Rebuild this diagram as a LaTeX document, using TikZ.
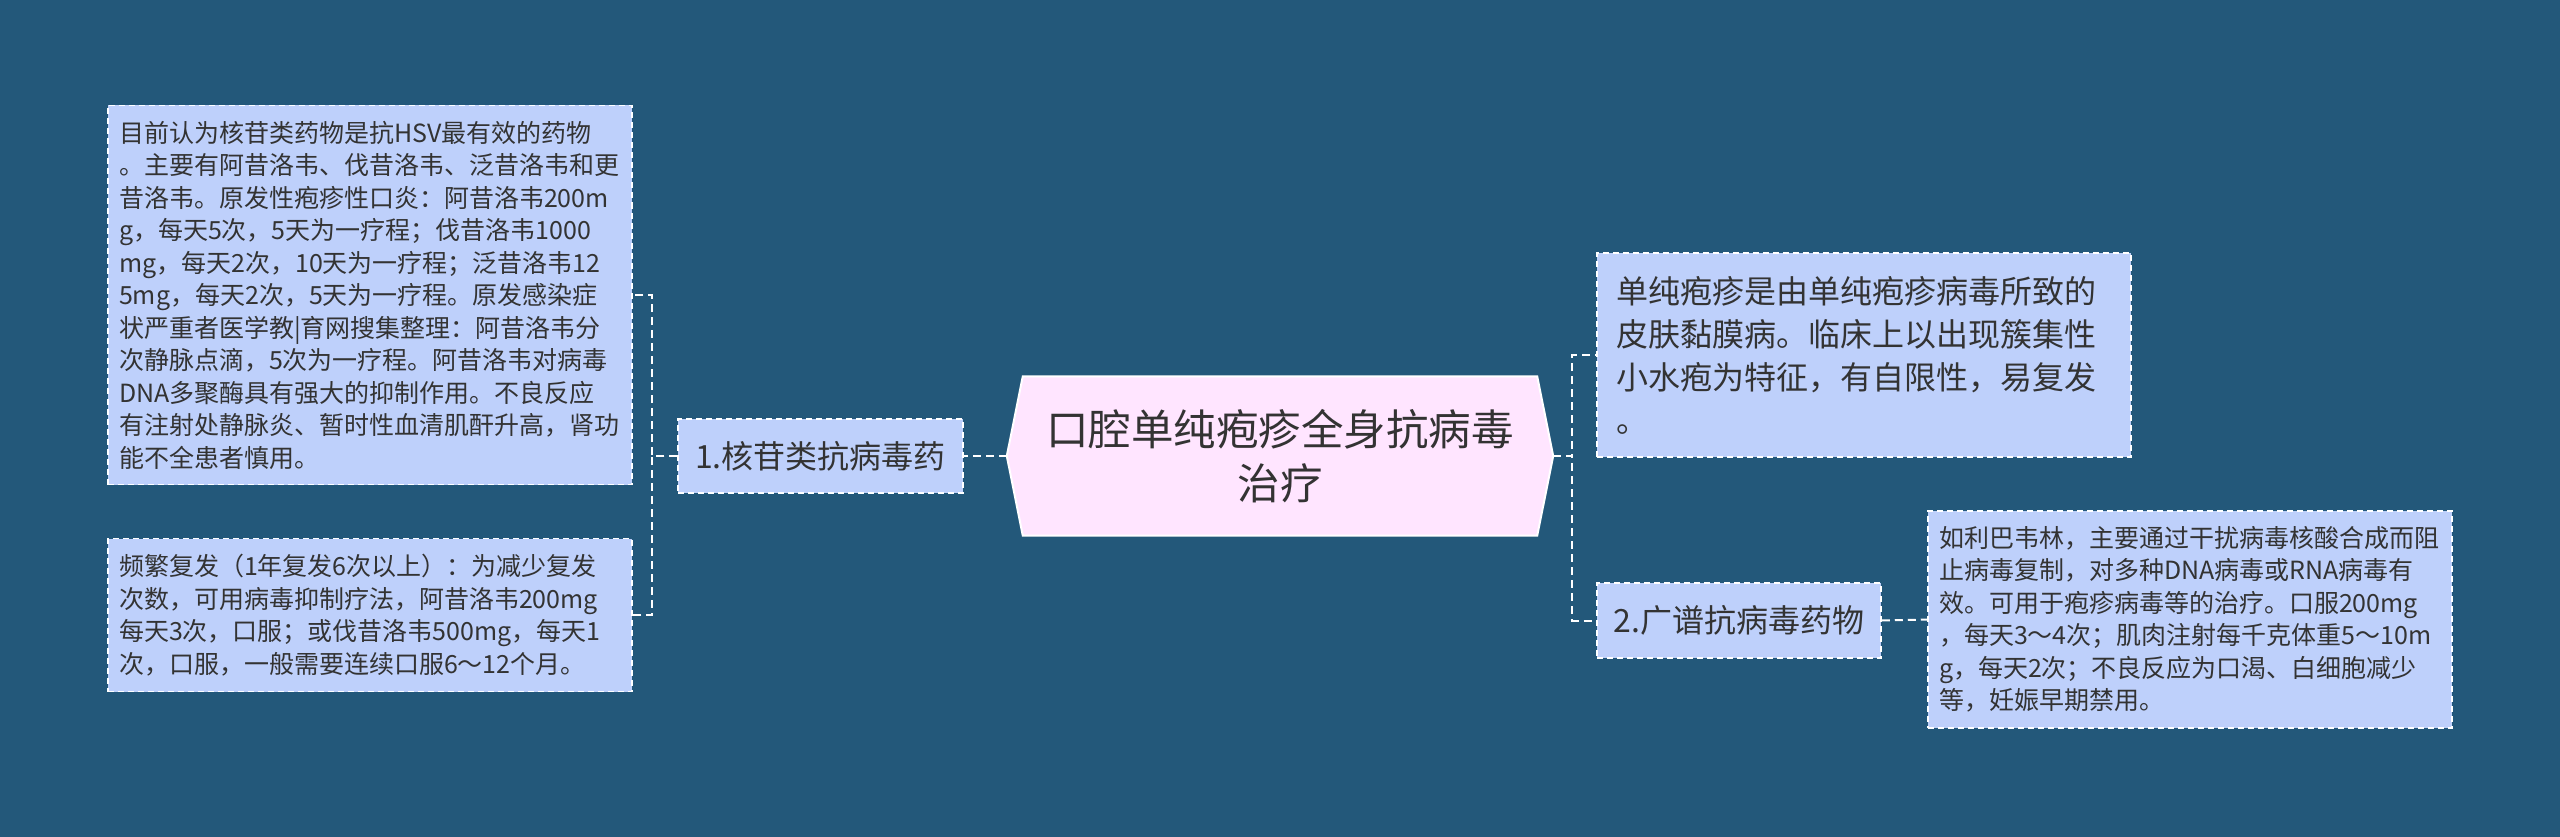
\documentclass[tikz,border=0pt]{standalone}
\usepackage{fontspec}
\setmainfont{Noto Sans CJK SC}
\usepackage{tikz}
\usetikzlibrary{positioning, backgrounds}
\definecolor{bgblue}{RGB}{35,88,122}
\definecolor{boxblue}{RGB}{190,208,251}
\definecolor{rootpink}{RGB}{255,229,255}
\definecolor{inkgray}{RGB}{51,51,51}
\tikzstyle{leafbox} = [rectangle,
text width=502pt,
inner xsep=11pt,
inner ysep=4pt,
align=left,
text=inkgray,
font=\fontsize{25pt}{32.5pt}\selectfont,
draw=white,
line width=1.5pt,
dash pattern=on 6pt off 4pt,
fill=boxblue]
\tikzstyle{branch} = [rectangle,
minimum width=285pt,
minimum height=74pt,
text=inkgray,
font=\fontsize{32pt}{40pt}\selectfont,
draw=white,
line width=1.5pt,
dash pattern=on 6pt off 4pt,
fill=boxblue]
\tikzstyle{rootbox} = [rectangle,
minimum width=546pt,
minimum height=159pt,
align=center,
text=inkgray,
font=\fontsize{42.5pt}{54pt}\selectfont]
\tikzstyle{link} = [draw=white, line width=2pt, dash pattern=on 8pt off 5pt]

\begin{document}
\begin{tikzpicture}[node distance=450pt]
        \useasboundingbox (0,0) rectangle (2560pt,-837pt);
        \node (root) [rootbox] at (1280pt,-456pt) {口腔单纯疱疹全身抗病毒\\治疗};
        \node (n1) [branch, left of=root, xshift=-9.5pt] {1.核苷类抗病毒药};
        \node (n2) [branch, right of=root, xshift=9pt, yshift=-164.5pt, minimum width=284pt, minimum height=75pt] {2.广谱抗病毒药物};
        \node (l1) [leafbox, left of=n1, xshift=-0.5pt, yshift=161pt, minimum height=379pt] {目前认为核苷类药物是抗HSV最有效的药物\\。主要有阿昔洛韦、伐昔洛韦、泛昔洛韦和更\\昔洛韦。原发性疱疹性口炎：阿昔洛韦200m\\g，每天5次，5天为一疗程；伐昔洛韦1000\\mg，每天2次，10天为一疗程；泛昔洛韦12\\5mg，每天2次，5天为一疗程。原发感染症\\状严重者医学教|育网搜集整理：阿昔洛韦分\\次静脉点滴，5次为一疗程。阿昔洛韦对病毒\\DNA多聚酶具有强大的抑制作用。不良反应\\有注射处静脉炎、暂时性血清肌酐升高，肾功\\能不全患者慎用。};
        \node (l2) [leafbox, left of=n1, xshift=-0.5pt, yshift=-159pt, minimum height=153pt] {频繁复发（1年复发6次以上）：为减少复发\\次数，可用病毒抑制疗法，阿昔洛韦200mg\\每天3次，口服；或伐昔洛韦500mg，每天1\\次，口服，一般需要连续口服6～12个月。};
        \node (r1) [leafbox, right of=root, xshift=134pt, yshift=101pt, minimum height=204pt, text width=496pt, inner xsep=19pt, font=\fontsize{32pt}{43pt}\selectfont] {单纯疱疹是由单纯疱疹病毒所致的\\皮肤黏膜病。临床上以出现簇集性\\小水疱为特征，有自限性，易复发\\。};
        \node (r2) [leafbox, right of=n2, xshift=1pt, yshift=1pt, minimum height=217pt] {如利巴韦林，主要通过干扰病毒核酸合成而阻\\止病毒复制，对多种DNA病毒或RNA病毒有\\效。可用于疱疹病毒等的治疗。口服200mg\\，每天3～4次；肌肉注射每千克体重5～10m\\g，每天2次；不良反应为口渴、白细胞减少\\等，妊娠早期禁用。};

        \begin{scope}[on background layer]
        \fill[bgblue] (0,0) rectangle (2560pt,-837pt);
        \filldraw[fill=rootpink, draw=white, line width=2pt] ([xshift=16pt]root.north west) -- ([xshift=-16pt]root.north east) -- (root.east) -- ([xshift=-16pt]root.south east) -- ([xshift=16pt]root.south west) -- (root.west) -- cycle;
        \end{scope}

        \draw [link] (root.west) -- (n1.east);
        \draw [link] (n1.west) -- ++(-25pt,0) |- (l1.east);
        \draw [link] (n1.west) -- ++(-25pt,0) |- (l2.east);
        \draw [link] (root.east) -- ++(19pt,0) |- (r1.west);
        \draw [link] (root.east) -- ++(19pt,0) |- (n2.west);
        \draw [link] (n2.east) -- (r2.west);
    \end{tikzpicture}
\end{document}
